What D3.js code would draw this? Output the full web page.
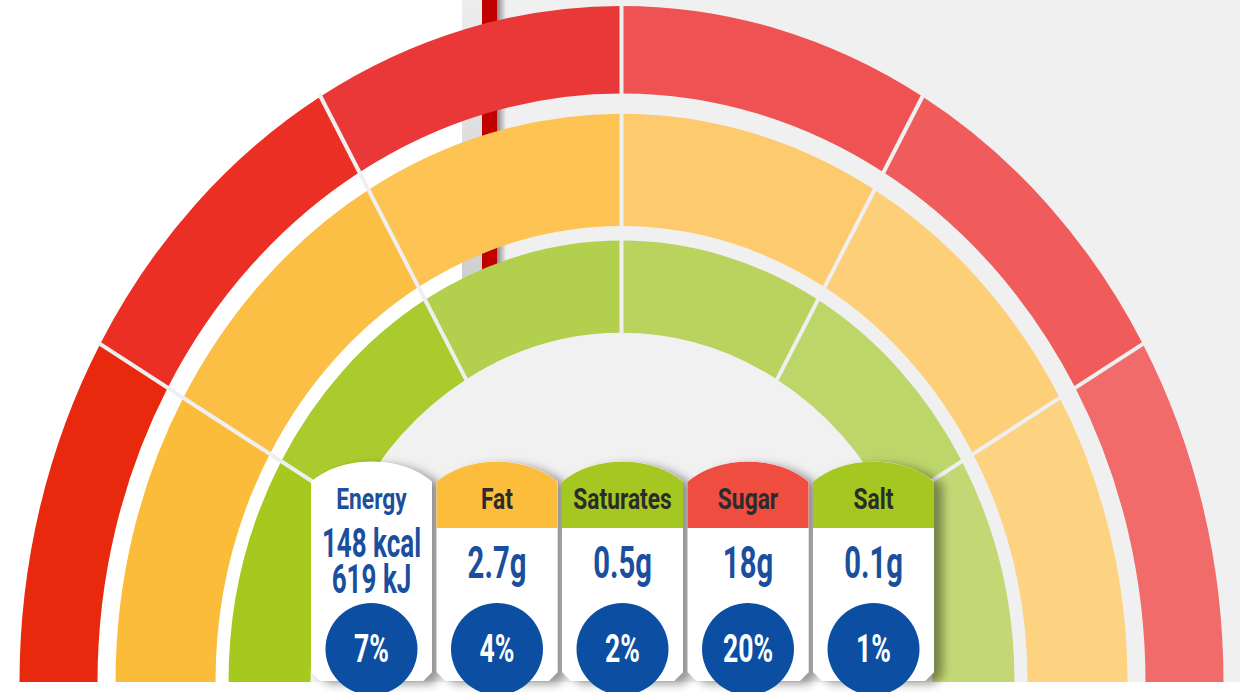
<!DOCTYPE html>
<html>
<head>
<meta charset="utf-8">
<script src="https://cdn.jsdelivr.net/npm/d3@7"></script>
<style>
  html, body { margin: 0; padding: 0; background: #fff; }
  svg { display: block; }
  text { font-family: Roboto, "Liberation Sans", sans-serif; font-weight: 700; }
</style>
</head>
<body>
<svg id="chart"></svg>
<script>
// ring segments, left to right
var outerColors  = ["#e9290d", "#eb2f25", "#ea3838", "#ef5252", "#f05c5c", "#f16b6b"];
var middleColors = ["#fbbc3a", "#fcbf45", "#fdc353", "#fdcb6e", "#fdcf78", "#fdd382"];
var innerColors  = ["#a6c920", "#aacb2e", "#b2d04d", "#b9d35e", "#bcd66a", "#c3d875"];
var segments = [1, 1, 1, 1, 1, 1];

// label cards
var nutrients = ["Energy", "Fat", "Saturates", "Sugar", "Salt"];
var amounts = [["148 kcal", "619 kJ"], ["2.7g"], ["0.5g"], ["18g"], ["0.1g"]];
var percents = ["7%", "4%", "2%", "20%", "1%"];
var levelColors = ["#ffffff", "#fbbd3b", "#a5c722", "#ee4d3f", "#a5c722"];

var width = 1240,
    height = 692,
    cx = 621.5,
    cy = 682,
    ky = 675 / 601;

var svg = d3.select("#chart")
    .attr("width", width)
    .attr("height", height);

var defs = svg.append("defs");

var stripGrad = defs.append("linearGradient")
    .attr("id", "strip").attr("x1", 0).attr("y1", 0).attr("x2", 0).attr("y2", 1);
stripGrad.append("stop").attr("offset", "0%").attr("stop-color", "#ededed");
stripGrad.append("stop").attr("offset", "100%").attr("stop-color", "#cdcdcd");

var barShade = defs.append("linearGradient")
    .attr("id", "barShade").attr("x1", 0).attr("y1", 0).attr("x2", 1).attr("y2", 0);
barShade.append("stop").attr("offset", "0%").attr("stop-color", "#8a8a8a");
barShade.append("stop").attr("offset", "100%").attr("stop-color", "#efefef");

var shadow = defs.append("filter")
    .attr("id", "cardShadow")
    .attr("x", "-20%").attr("y", "-20%").attr("width", "150%").attr("height", "150%");
shadow.append("feDropShadow")
    .attr("dx", 9).attr("dy", 3)
    .attr("stdDeviation", 5)
    .attr("flood-color", "#000")
    .attr("flood-opacity", 0.38);

// background
svg.append("rect").attr("width", width).attr("height", height).attr("fill", "#ffffff");
svg.append("rect")
    .attr("x", 462).attr("y", 0)
    .attr("width", width - 462).attr("height", cy)
    .attr("fill", "#f0f0f0");
svg.append("rect")
    .attr("x", 462).attr("y", 0).attr("width", 20).attr("height", 300)
    .attr("fill", "url(#strip)");
svg.append("rect")
    .attr("x", 482).attr("y", 0).attr("width", 15).attr("height", 300)
    .attr("fill", "#c10000");
svg.append("rect")
    .attr("x", 497).attr("y", 0).attr("width", 9).attr("height", 300)
    .attr("fill", "url(#barShade)");

// gauge, drawn in a vertically stretched frame
var gauge = svg.append("g")
    .attr("transform", "translate(" + cx + "," + cy + ") scale(1," + ky + ")");

gauge.append("path")
    .attr("d", d3.arc().innerRadius(0).outerRadius(311)
        .startAngle(-Math.PI / 2).endAngle(Math.PI / 2)())
    .attr("fill", "#f1f1f1");

var pie = d3.pie()
    .sort(null)
    .startAngle(-Math.PI / 2)
    .endAngle(Math.PI / 2);

var rings = [
    { inner: 524, outer: 602, colors: outerColors },
    { inner: 406, outer: 506, colors: middleColors },
    { inner: 311, outer: 393, colors: innerColors }
];

rings.forEach(function (ring) {
    var arc = d3.arc().innerRadius(ring.inner).outerRadius(ring.outer);
    gauge.append("g")
        .selectAll("path")
        .data(pie(segments))
        .join("path")
        .attr("d", arc)
        .attr("fill", function (d, i) { return ring.colors[i]; });
});

// dividers between segments
var cuts = pie(segments).slice(1).map(function (d) { return d.startAngle; });
svg.append("g")
    .selectAll("line")
    .data(cuts)
    .join("line")
    .attr("x1", function (a) { return cx + 309 * Math.sin(a); })
    .attr("y1", function (a) { return cy - 309 * Math.cos(a) * ky; })
    .attr("x2", function (a) { return cx + 604 * Math.sin(a); })
    .attr("y2", function (a) { return cy - 604 * Math.cos(a) * ky; })
    .attr("stroke", "#efefef")
    .attr("stroke-width", 4);

// bottom strip
svg.append("rect")
    .attr("x", 0).attr("y", cy)
    .attr("width", width).attr("height", height - cy)
    .attr("fill", "#ffffff");

// cards
var xBand = d3.scaleBand()
    .domain(nutrients)
    .range([311, 934])
    .paddingInner(0.036)
    .paddingOuter(0);

var edgeTop = 482, headBottom = 528, cardBottom = 681, chamfer = 9;

function cardPath(x0, w, bottom, cut) {
    var x1 = x0 + w;
    return "M" + x0 + "," + (bottom - cut) +
        "L" + x0 + "," + edgeTop +
        "A" + (w * 0.625) + "," + (w * 0.42) + " 0 0 1 " + x1 + "," + edgeTop +
        "L" + x1 + "," + (bottom - cut) +
        "L" + (x1 - cut) + "," + bottom +
        "L" + (x0 + cut) + "," + bottom + "Z";
}

var cards = svg.append("g")
    .selectAll("g")
    .data(nutrients)
    .join("g")
    .attr("filter", "url(#cardShadow)");

cards.append("path")
    .attr("d", function (d) { return cardPath(xBand(d), xBand.bandwidth(), cardBottom, chamfer); })
    .attr("fill", "#ffffff");

cards.append("path")
    .attr("d", function (d) { return cardPath(xBand(d), xBand.bandwidth(), headBottom, 0); })
    .attr("fill", function (d, i) { return levelColors[i]; });

var labels = svg.append("g")
    .selectAll("g")
    .data(nutrients)
    .join("g")
    .attr("transform", function (d) { return "translate(" + (xBand(d) + xBand.bandwidth() / 2) + ",0)"; });

labels.append("text")
    .attr("text-anchor", "middle")
    .attr("font-size", 30)
    .attr("transform", "translate(0,509) scale(0.76,1)")
    .attr("fill", function (d, i) { return i === 0 ? "#1e4f9c" : "#2b2b2b"; })
    .text(function (d) { return d; });

labels.each(function (d, i) {
    var g = d3.select(this);
    var lines = amounts[i];
    lines.forEach(function (t, j) {
        var y = lines.length > 1 ? 557 + j * 36 : 578;
        g.append("text")
            .attr("text-anchor", "middle")
            .attr("font-size", lines.length > 1 ? 40 : 45)
            .attr("transform", "translate(0," + y + ") scale(0.65,1)")
            .attr("fill", "#1a4f9e")
            .text(t);
    });
});

labels.append("circle")
    .attr("cx", 0).attr("cy", 649).attr("r", 46)
    .attr("fill", "#0b4ea2");

labels.append("text")
    .attr("text-anchor", "middle")
    .attr("font-size", 38)
    .attr("transform", "translate(0,662) scale(0.7,1)")
    .attr("fill", "#ffffff")
    .text(function (d, i) { return percents[i]; });
</script>
</body>
</html>
